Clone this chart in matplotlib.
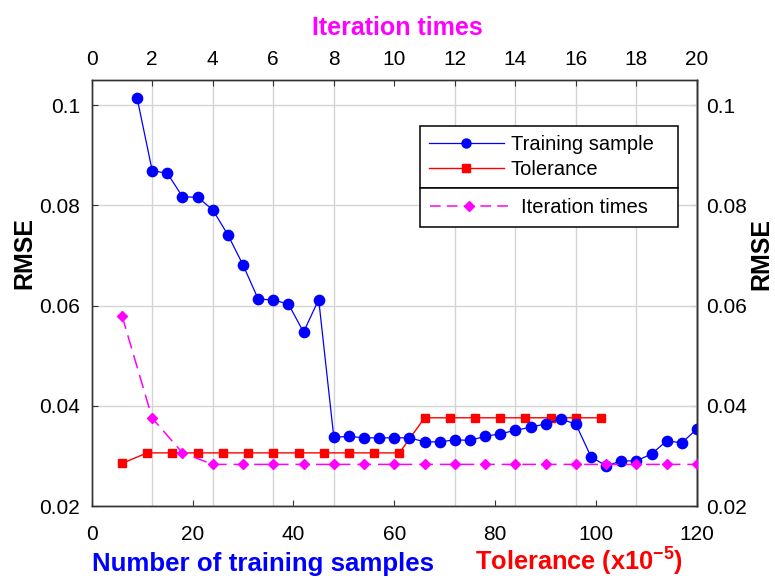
import numpy as np
import matplotlib
matplotlib.use("Agg")
import matplotlib.pyplot as plt
from matplotlib.lines import Line2D
from matplotlib.ticker import FuncFormatter

plt.rcParams['font.family'] = ['Liberation Sans', 'DejaVu Sans']
plt.rcParams['mathtext.fontset'] = 'custom'
plt.rcParams['mathtext.rm'] = 'Liberation Sans'
plt.rcParams['mathtext.bf'] = 'Liberation Sans:bold'

# RMSE vs. number of training samples
samples = np.arange(9, 121, 3)
rmse_samples = [0.1014, 0.0869, 0.0864, 0.0817, 0.0816, 0.0791, 0.0741, 0.0681,
                0.0613, 0.0611, 0.0603, 0.0547, 0.0612, 0.0337, 0.0339, 0.0336,
                0.0336, 0.0336, 0.0336, 0.0328, 0.0328, 0.0332, 0.0331, 0.0339,
                0.0344, 0.0351, 0.0357, 0.0364, 0.0374, 0.0363, 0.0298, 0.0280,
                0.0290, 0.0290, 0.0304, 0.0330, 0.0326, 0.0354]

# RMSE vs. tolerance (x1e-5)
tolerance = np.arange(6, 102, 5)
rmse_tolerance = [0.0285] + [0.0306] * 11 + [0.0376] * 8

# RMSE vs. iteration times
iterations = np.arange(1, 21)
rmse_iterations = [0.0580, 0.0375, 0.0306] + [0.0283] * 17

y_ticks = [0.02, 0.04, 0.06, 0.08, 0.1]
x_ticks = [0, 20, 40, 60, 80, 100, 120]
iter_ticks = list(range(0, 21, 2))

W, H = 775, 578
fig = plt.figure(figsize=(W / 100, H / 100), dpi=100)
ax = fig.add_axes([91.7 / W, 1 - 506 / H, (697 - 91.7) / W, (506 - 80) / H])

spine_c = '#333333'
tick_kw = dict(direction='in', length=4.5, width=0.8, color=spine_c,
               labelsize=15, labelcolor='black')

ax.set_xlim(0, 120)
ax.set_ylim(0.02, 0.105)
ax.set_xticks(x_ticks)
ax.set_yticks(y_ticks)
ax.yaxis.set_major_formatter(FuncFormatter(lambda v, p: f"{v:g}"))
# vertical grid follows the iteration-axis ticks (every 2 iterations = 12 samples)
ax.set_xticks(np.arange(0, 121, 12), minor=True)
ax.tick_params(axis='x', which='major', pad=14, **tick_kw)
ax.tick_params(axis='x', which='minor', length=0)
ax.tick_params(axis='y', which='major', pad=8.5, left=True, right=False, **tick_kw)
ax.set_axisbelow(True)
ax.grid(which='minor', axis='x', color='#d4d4d4', lw=1.0)
ax.grid(which='major', axis='y', color='#d4d4d4', lw=1.0)
for s in ax.spines.values():
    s.set_color(spine_c)
    s.set_linewidth(1.0)

ln_tol, = ax.plot(tolerance, rmse_tolerance, color='red', lw=1.0, marker='s',
                  ms=6, mfc='red', mec='red', zorder=3)
ln_smp, = ax.plot(samples, rmse_samples, color='blue', lw=0.9, marker='o',
                  ms=7.4, mfc='blue', mec='blue', zorder=4)

# right-hand RMSE axis
sec = ax.secondary_yaxis('right')
sec.set_yticks(y_ticks)
sec.yaxis.set_major_formatter(FuncFormatter(lambda v, p: f"{v:g}"))
sec.tick_params(axis='y', pad=6.3, **tick_kw)
sec.spines['right'].set_color(spine_c)
sec.spines['right'].set_linewidth(1.0)

# top iteration axis
ax_top = ax.twiny()
ax_top.set_xlim(0, 20)
ax_top.set_xticks(iter_ticks)
ax_top.tick_params(axis='x', pad=7.6, **tick_kw)
for s in ax_top.spines.values():
    s.set_color(spine_c)
    s.set_linewidth(1.0)
ln_it, = ax_top.plot(iterations, rmse_iterations, color='#ff00ff', lw=1.1,
                     dashes=(9, 4.5), marker='D', ms=5.6, mfc='#ff00ff',
                     mec='#ff00ff', zorder=5)

# axis titles
bold = dict(fontsize=18, fontweight='bold')
fig.text(397.5 / W, 1 - 35 / H, 'Iteration times', color='#ff00ff',
         ha='center', va='baseline', **bold)
fig.text(91.7 / W, 1 - 571 / H, 'Number of training samples', color='blue',
         ha='left', va='baseline', fontsize=18.6, fontweight='bold')
fig.text(475 / W, 1 - 571 / H, r'Tolerance (x10$^{\mathbf{-5}}$)', color='red',
         ha='left', va='baseline', fontsize=18.3, fontweight='bold')
fig.text(24 / W, 1 - 253 / H, 'RMSE', rotation=90, ha='center', va='center',
         color='black', **bold)
fig.text(761 / W, 1 - 254 / H, 'RMSE', rotation=90, ha='center', va='center',
         color='black', **bold)

# legends: two stacked boxes
h_smp = Line2D([], [], color='blue', lw=0.9, marker='o', ms=6.5, mfc='blue', mec='blue')
h_tol = Line2D([], [], color='red', lw=1.0, marker='s', ms=5.5, mfc='red', mec='red')
h_it = Line2D([], [], color='#ff00ff', lw=1.1, dashes=(7, 4), marker='D', ms=5,
              mfc='#ff00ff', mec='#ff00ff')

leg_kw = dict(fontsize=14.5, frameon=True, fancybox=False, framealpha=1,
              edgecolor='black', borderaxespad=0, mode='expand',
              bbox_transform=fig.transFigure, numpoints=1)
leg1 = fig.legend([h_smp, h_tol], ['Training sample', 'Tolerance'],
                  loc='lower left', bbox_to_anchor=(420 / W, 1 - 188 / H, 258 / W, 70 / H),
                  handlelength=3.7, handletextpad=0.35, labelspacing=0.3,
                  borderpad=0.45, **leg_kw)
leg1.get_frame().set_linewidth(1.1)
leg2 = fig.legend([h_it], ['Iteration times'],
                  loc='upper left', bbox_to_anchor=(420 / W, 1 - 227 / H, 258 / W, 39 / H),
                  handlelength=3.9, handletextpad=0.6, borderpad=0.5, **leg_kw)
leg2.get_frame().set_linewidth(1.1)

fig.savefig('out.png', dpi=100)
